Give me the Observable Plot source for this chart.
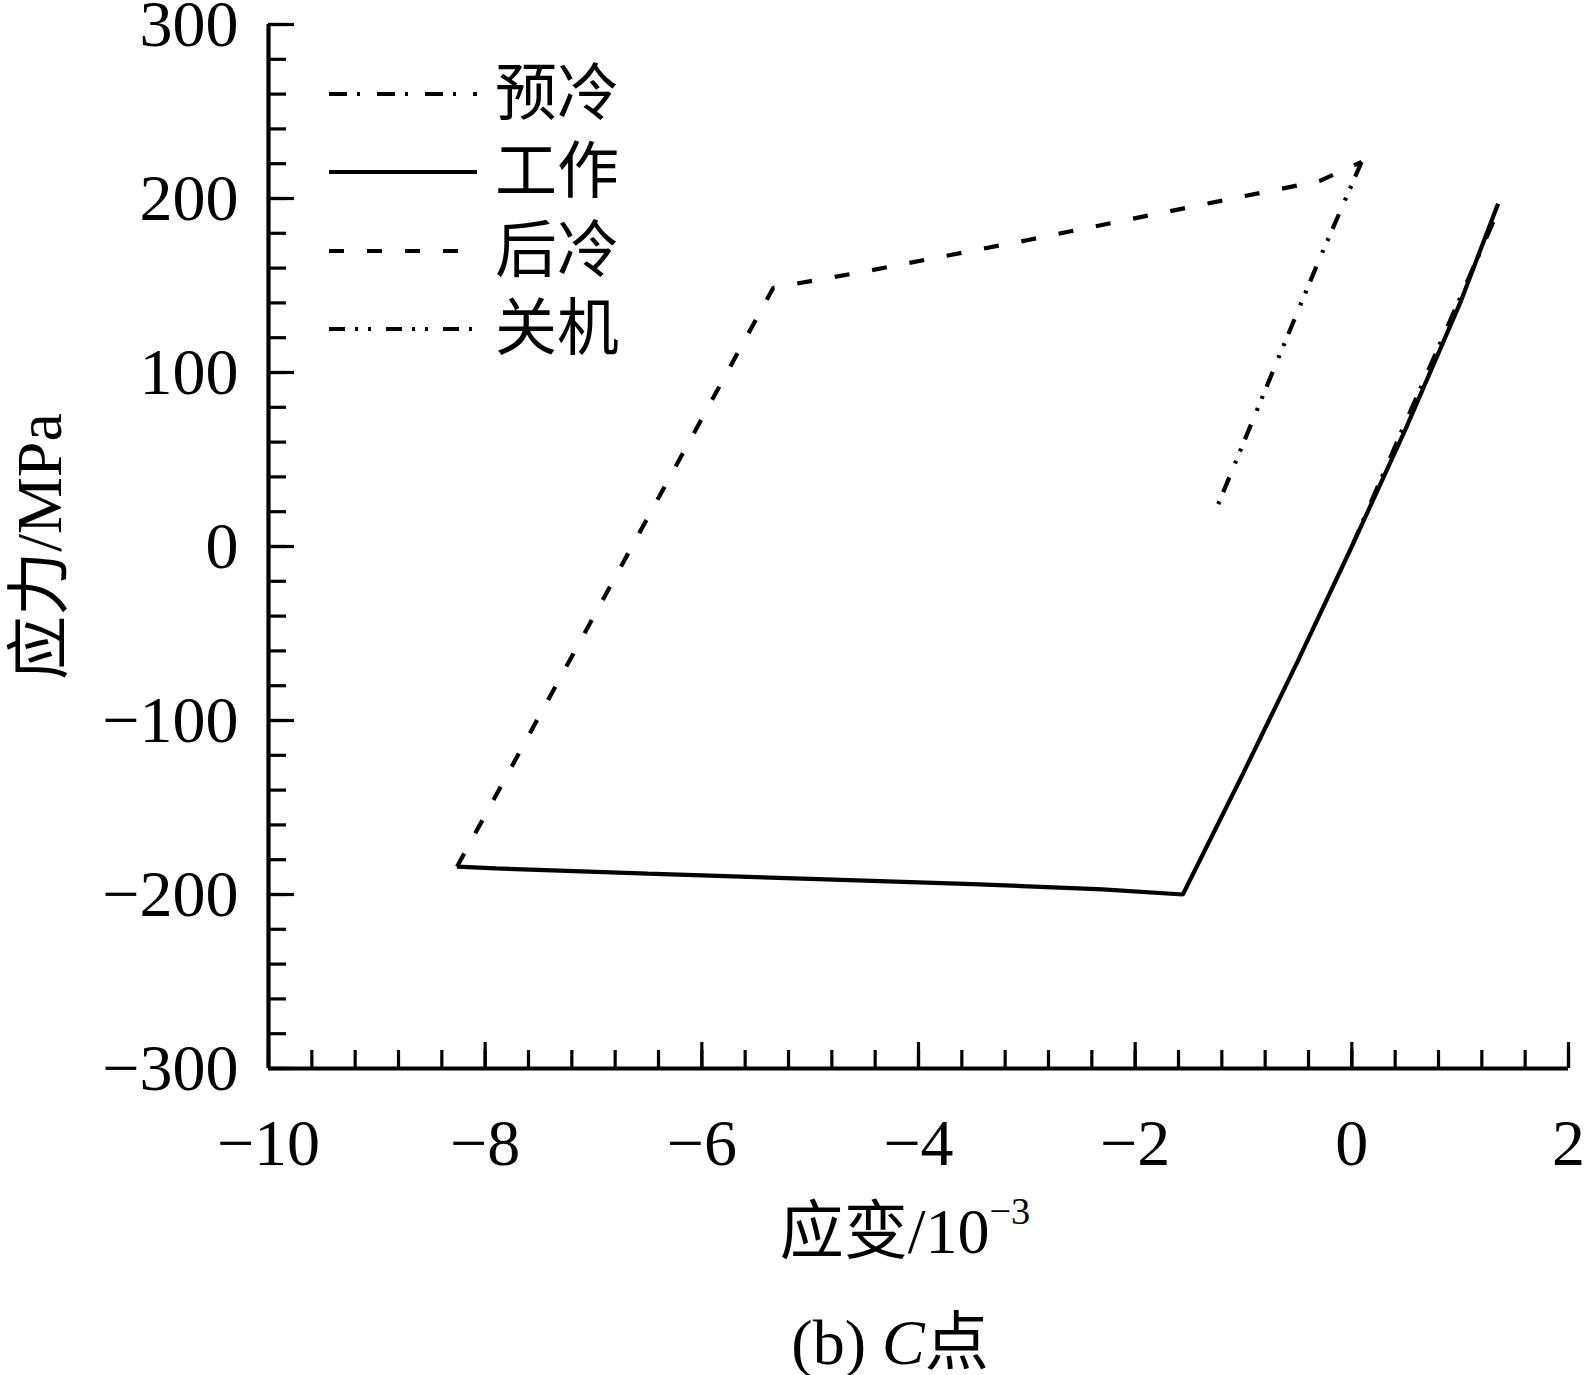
<!DOCTYPE html>
<html>
<head>
<meta charset="utf-8">
<script src="https://cdn.jsdelivr.net/npm/d3@7"></script>
<script src="https://cdn.jsdelivr.net/npm/@observablehq/plot@0.6"></script>
<style>
  html, body { margin: 0; padding: 0; background: #fff; }
  #wrap { position: relative; width: 1587px; height: 1375px; background: #fff;
          font-family: "Liberation Serif", "Times New Roman", "Noto Sans CJK SC", serif; color: #000; }
  .legend-row { position: absolute; left: 329px; height: 62px; display: flex; align-items: center; }
  .legend-row span { font-size: 62px; line-height: 62px; margin-left: 18px; }
  .cap { position: absolute; transform: translateX(-50%); white-space: nowrap; font-size: 64px; line-height: 64px; }
</style>
</head>
<body>
<div id="wrap"></div>
<script>
// ---- data (strain in 10^-3, stress in MPa) ----
const preStrain  = [0, 0.5, 1.0, 1.33];
const preStress  = [0, 72, 143, 190];

const workStrain = [1.35, 1.0, 0.5, 0, -0.5, -1.0, -1.56, -2.3, -3.5, -5.0, -6.5, -7.9, -8.26];
const workStress = [197, 140, 68, 0, -66, -130, -200, -197, -194, -191, -188, -185, -184];

const postStrain = [-8.26, -5.34, -4.5, -3.0, -1.5, -0.3, 0.09];
const postStress = [-184, 148.7, 158, 176, 195, 210, 221];

const offStrain  = [0.09, -0.3, -0.7, -1.235];
const offStress  = [221, 165, 105, 24];

const seriesNames = ["预冷", "工作", "后冷", "关机"];
const seriesDash  = ["18,10,3,17", null, "15,23", "16,10,3,10,3,15"];

const xMajor = [-10, -8, -6, -4, -2, 0, 2];
const xMinor = [-10, -9.6, -9.2, -8.8, -8.4, -8, -7.6, -7.2, -6.8, -6.4, -6, -5.6, -5.2, -4.8, -4.4, -4,
                -3.6, -3.2, -2.8, -2.4, -2, -1.6, -1.2, -0.8, -0.4, 0, 0.4, 0.8, 1.2, 1.6, 2];
const yMajor = [-300, -200, -100, 0, 100, 200, 300];
const yMinor = [-300, -280, -260, -240, -220, -200, -180, -160, -140, -120, -100, -80, -60, -40, -20, 0,
                20, 40, 60, 80, 100, 120, 140, 160, 180, 200, 220, 240, 260, 280, 300];

const xLabel = "应变/10";
const xLabelSup = "−3";
const yLabel = "应力/MPa";
const caption = ["(b) ", "C", "点"];

// ---- build ----
const toRows = (xs, ys) => xs.map((x, i) => ({x, y: ys[i]}));
const seriesRows = [
  toRows(preStrain, preStress),
  toRows(workStrain, workStress),
  toRows(postStrain, postStress),
  toRows(offStrain, offStress)
];

const W = 1587, H = 1180;
const mL = 268, mR = 19, mT = 24, mB = 112;
const plotW = W - mL - mR, plotH = H - mT - mB;
const fmt = d => d < 0 ? "\u2212" + Math.abs(d) : String(d);
const SW = 4.2;

const lineMarks = seriesRows.map((rows, i) =>
  Plot.line(rows, {x: "x", y: "y", stroke: "black", strokeWidth: SW,
    strokeDasharray: seriesDash[i] || undefined, strokeLinecap: "butt", strokeLinejoin: "miter", curve: "linear"}));

const chart = Plot.plot({
  width: W, height: H,
  marginLeft: mL, marginRight: mR, marginTop: mT, marginBottom: mB,
  x: {domain: [-10, 2]},
  y: {domain: [-300, 300]},
  style: {fontFamily: '"Liberation Serif","Times New Roman","Noto Sans CJK SC",serif', fontSize: "66px", background: "white", color: "black", overflow: "visible"},
  marks: [
    Plot.axisX({ticks: xMajor, tickSize: 0, tickPadding: 50, tickFormat: fmt, label: null, fontSize: 66}),
    Plot.axisY({ticks: yMajor, tickSize: 0, tickPadding: 30, tickFormat: fmt, label: null, fontSize: 66}),
    Plot.tickX(xMinor, {x: d => d, insetTop: plotH - 18, stroke: "black", strokeWidth: 3.2}),
    Plot.tickX(xMajor, {x: d => d, insetTop: plotH - 26, stroke: "black", strokeWidth: 3.2}),
    Plot.tickY(yMinor, {y: d => d, insetRight: plotW - 18, stroke: "black", strokeWidth: 3.2}),
    Plot.tickY(yMajor, {y: d => d, insetRight: plotW - 26, stroke: "black", strokeWidth: 3.2}),
    Plot.ruleX([-10], {stroke: "black", strokeWidth: 4.2}),
    Plot.ruleY([-300], {stroke: "black", strokeWidth: 4.2}),
    ...lineMarks,
    Plot.text([yLabel], {text: d => d, frameAnchor: "left", dx: -228, rotate: -90, fontSize: 64, textAnchor: "middle", lineAnchor: "middle", fill: "black"})
  ]
});

const wrap = document.getElementById("wrap");
chart.style.position = "absolute";
chart.style.left = "0px";
chart.style.top = "0px";
wrap.appendChild(chart);

// legend (overlay, top-left inside plot)
const legendY = [94, 172, 251, 329];
seriesNames.forEach((name, i) => {
  const row = document.createElement("div");
  row.className = "legend-row";
  row.style.top = (legendY[i] - 31) + "px";
  const ns = "http://www.w3.org/2000/svg";
  const s = document.createElementNS(ns, "svg");
  s.setAttribute("width", "148"); s.setAttribute("height", "10");
  const ln = document.createElementNS(ns, "line");
  ln.setAttribute("x1", "0"); ln.setAttribute("x2", "148");
  ln.setAttribute("y1", "5"); ln.setAttribute("y2", "5");
  ln.setAttribute("stroke", "black"); ln.setAttribute("stroke-width", String(SW));
  if (seriesDash[i]) ln.setAttribute("stroke-dasharray", seriesDash[i]);
  s.appendChild(ln);
  row.appendChild(s);
  const t = document.createElement("span");
  t.textContent = name;
  row.appendChild(t);
  wrap.appendChild(row);
});

// x-axis title
const xt = document.createElement("div");
xt.className = "cap";
xt.style.left = "905px";
xt.style.top = "1200px";
xt.innerHTML = xLabel + '<span style="font-size:0.6em;position:relative;top:-0.75em;">' + xLabelSup + '</span>';
wrap.appendChild(xt);

// caption
const cp = document.createElement("div");
cp.className = "cap";
cp.style.left = "890px";
cp.style.top = "1311px";
cp.innerHTML = caption[0] + '<i>' + caption[1] + '</i>' + caption[2];
wrap.appendChild(cp);
</script>
</body>
</html>
